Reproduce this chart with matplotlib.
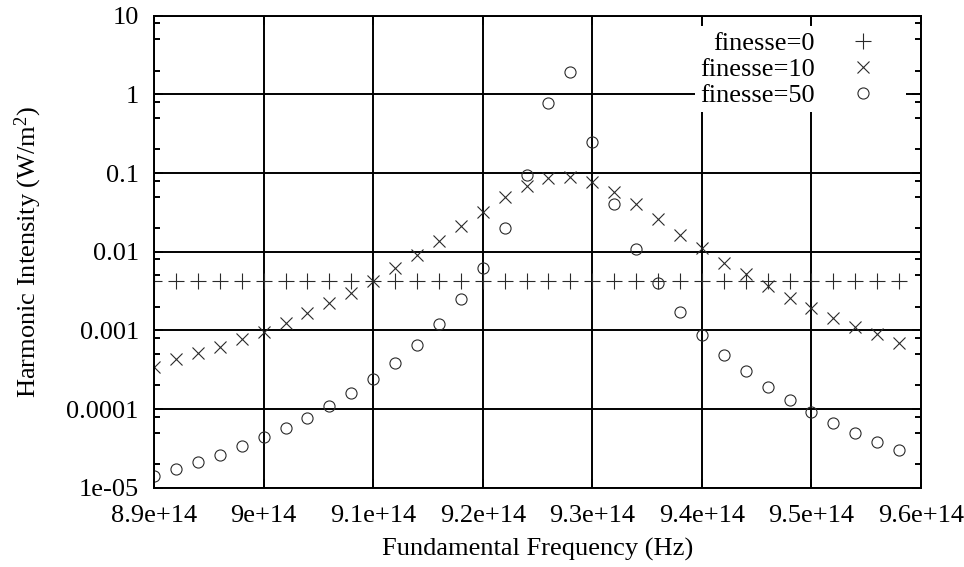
import numpy as np
import matplotlib
matplotlib.use("Agg")
from matplotlib import pyplot as plt
from matplotlib.ticker import FixedLocator, NullLocator


# fundamental frequency samples, in units of 1e14 Hz
freq_e14 = [8.90, 8.92, 8.94, 8.96, 8.98, 9.00, 9.02, 9.04, 9.06, 9.08,
            9.10, 9.12, 9.14, 9.16, 9.18, 9.20, 9.22, 9.24, 9.26, 9.28,
            9.30, 9.32, 9.34, 9.36, 9.38, 9.40, 9.42, 9.44, 9.46, 9.48,
            9.50, 9.52, 9.54, 9.56, 9.58]

# harmonic intensity (W/m^2) for each cavity finesse
finesse0 = [0.0043, 0.0043, 0.0043, 0.0043, 0.0043, 0.0043, 0.0043, 0.0043, 0.0043, 0.0043,
            0.0043, 0.0043, 0.0043, 0.0043, 0.0043, 0.0043, 0.0043, 0.0043, 0.0043, 0.0043,
            0.0043, 0.0043, 0.0043, 0.0043, 0.0043, 0.0043, 0.0043, 0.0043, 0.0043, 0.0043,
            0.0043, 0.0043, 0.0043, 0.0043, 0.0043]

finesse10 = [3.45e-4, 4.33e-4, 5.12e-4, 6.21e-4, 7.7e-4, 9.6e-4, 1.25e-3, 1.65e-3, 2.21e-3, 3.01e-3,
             4.2e-3, 6.15e-3, 9.2e-3, 1.37e-2, 2.12e-2, 3.23e-2, 4.9e-2, 6.9e-2, 8.6e-2, 9.0e-2,
             7.8e-2, 5.8e-2, 4.04e-2, 2.58e-2, 1.63e-2, 1.10e-2, 7.24e-3, 5.16e-3, 3.67e-3, 2.60e-3,
             1.91e-3, 1.42e-3, 1.11e-3, 8.9e-4, 6.97e-4]

finesse50 = [1.42e-5, 1.73e-5, 2.14e-5, 2.61e-5, 3.39e-5, 4.45e-5, 5.69e-5, 7.76e-5, 1.10e-4, 1.62e-4,
             2.43e-4, 3.88e-4, 6.52e-4, 1.20e-3, 2.50e-3, 6.15e-3, 1.98e-2, 9.4e-2, 0.78, 1.94,
             0.25, 4.04e-2, 1.07e-2, 3.96e-3, 1.73e-3, 8.73e-4, 4.87e-4, 3.05e-4, 1.93e-4, 1.30e-4,
             9.25e-5, 6.71e-5, 5.0e-5, 3.85e-5, 3.01e-5]

xtick_vals = [8.9e14, 9.0e14, 9.1e14, 9.2e14, 9.3e14, 9.4e14, 9.5e14, 9.6e14]
xtick_labels = ['8.9e+14', '9e+14', '9.1e+14', '9.2e+14', '9.3e+14', '9.4e+14', '9.5e+14', '9.6e+14']
ytick_vals = [1e-5, 1e-4, 1e-3, 1e-2, 1e-1, 1, 10]
ytick_labels = ['1e-05', '0.0001', '0.001', '0.01', '0.1', '1', '10']

plt.rcParams['font.family'] = ['Liberation Serif', 'DejaVu Serif']
plt.rcParams['mathtext.default'] = 'regular'
plt.rcParams['font.size'] = 19

freq = np.array(freq_e14) * 1e14
ink = '#2a2a2a'

fig = plt.figure(figsize=(9.64, 5.67), dpi=100)
ax = fig.add_axes([0.1598, 0.1399, 0.7956, 0.8324])

ax.plot(freq, finesse0, linestyle='none', marker='+', markersize=11.5,
        markeredgewidth=0.8, color=ink, label='finesse=0')
ax.plot(freq, finesse10, linestyle='none', marker='x', markersize=9,
        markeredgewidth=0.8, color=ink, label='finesse=10')
ax.plot(freq, finesse50, linestyle='none', marker='o', markersize=8,
        markeredgewidth=0.8, color=ink, fillstyle='none', label='finesse=50')

ax.set_yscale('log')
ax.set_xlim(8.9e14, 9.6e14)
ax.set_ylim(1e-5, 10)

ax.xaxis.set_major_locator(FixedLocator(xtick_vals))
ax.set_xticklabels(xtick_labels)
ax.xaxis.set_minor_locator(NullLocator())
ax.yaxis.set_major_locator(FixedLocator(ytick_vals))
ax.set_yticklabels(ytick_labels)
minor_y = [m * 10.0 ** e for e in range(-5, 1) for m in (2, 5, 8)]
ax.yaxis.set_minor_locator(FixedLocator(minor_y))

ax.tick_params(which='both', direction='in', top=True, right=True,
               width=1.4, color='black')
ax.tick_params(which='major', length=6.5)
ax.tick_params(which='minor', length=4.5)
ax.tick_params(axis='x', which='major', pad=12.5)
ax.tick_params(axis='y', which='major', pad=11)

ax.grid(True, which='major', color='black', linewidth=1.4)
for sp in ax.spines.values():
    sp.set_linewidth(1.4)

ax.set_xlabel('Fundamental Frequency (Hz)', labelpad=8)
ax.set_ylabel('Harmonic Intensity (W/m$^{2}$)', labelpad=16)

# legend sits on a plain white box that hides the grid behind it
leg = ax.legend(loc='upper right', bbox_to_anchor=(0.9804, 0.978),
                borderaxespad=0, borderpad=0.2, labelspacing=0.1,
                handlelength=2.86, handletextpad=0.39, markerfirst=False,
                frameon=True, fancybox=False, fontsize=19)
leg.get_frame().set_facecolor('white')
leg.get_frame().set_edgecolor('none')
leg.get_frame().set_alpha(1.0)

fig.savefig('out.png', dpi=100)
